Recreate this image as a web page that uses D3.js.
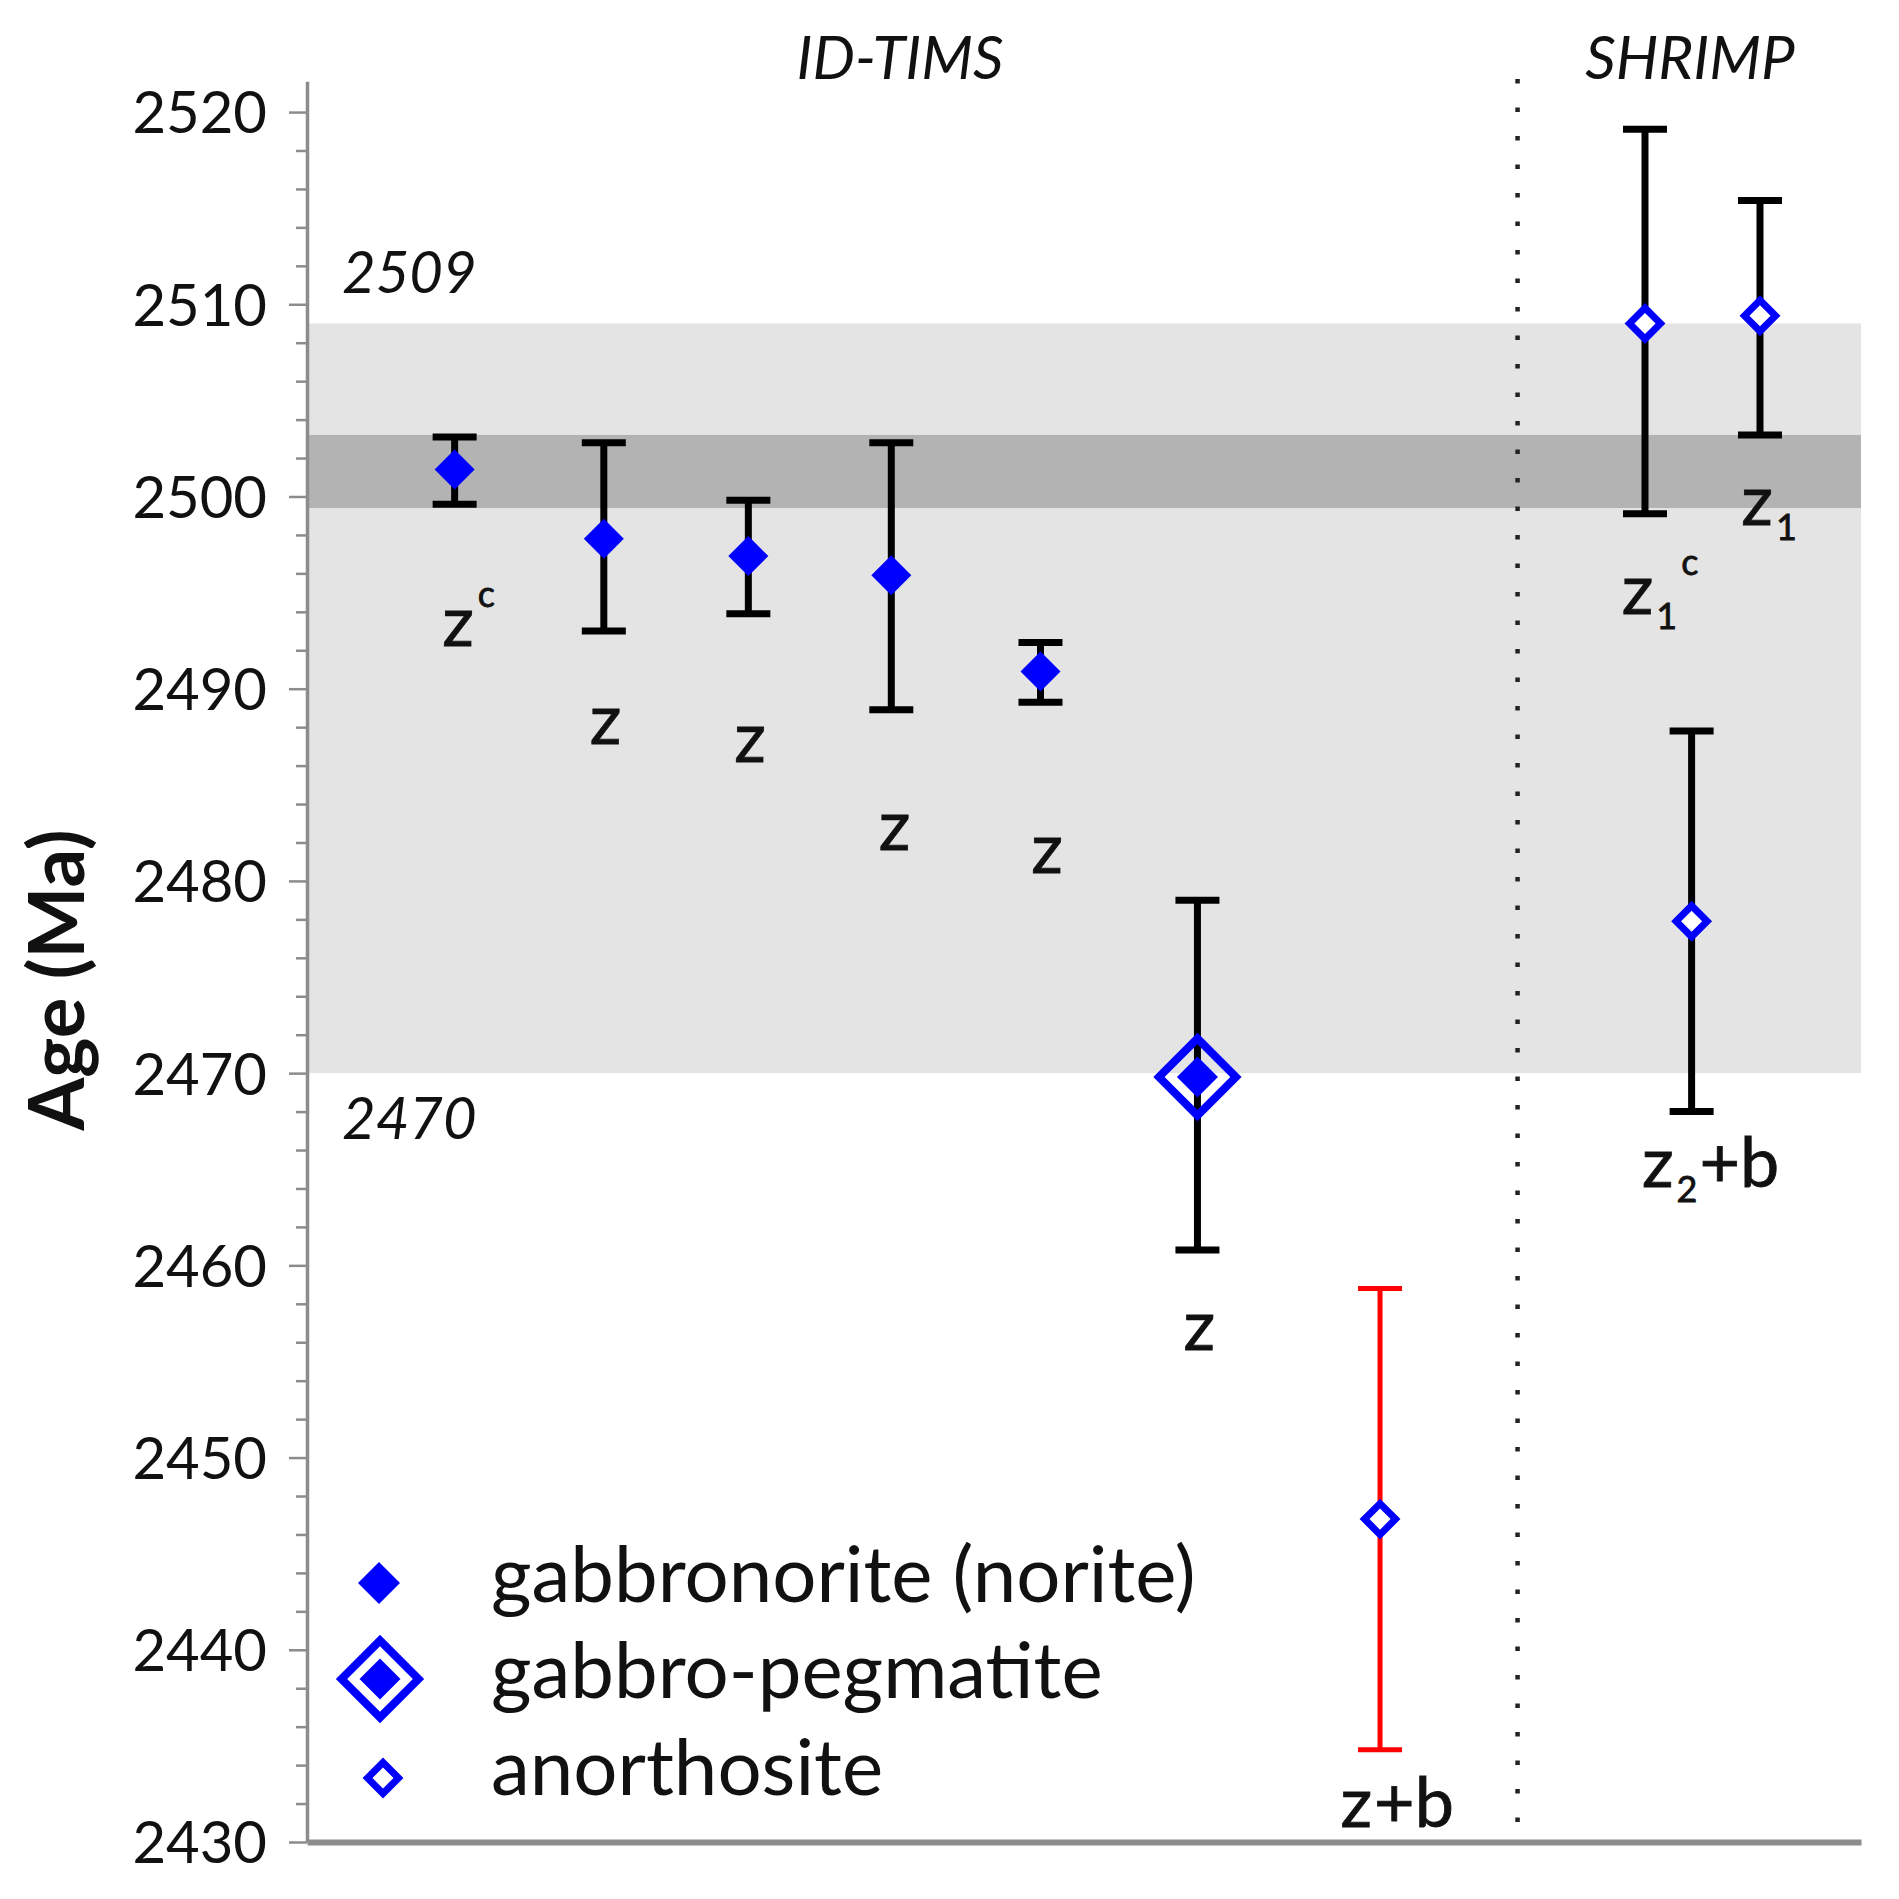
<!DOCTYPE html>
<html>
<head>
<meta charset="utf-8">
<script src="https://cdn.jsdelivr.net/npm/d3@7"></script>
<style>
  body { margin: 0; background: #fff; }
  text { font-family: Lato, "Open Sans", sans-serif; fill: #111; }
</style>
</head>
<body>
<svg id="chart" width="1899" height="1899"></svg>
<script>
// values (ages in Ma, 2-sigma bars)
const method   = ['ID-TIMS','ID-TIMS','ID-TIMS','ID-TIMS','ID-TIMS','ID-TIMS','ID-TIMS','SHRIMP','SHRIMP','SHRIMP'];
const rock     = ['gabbronorite','gabbronorite','gabbronorite','gabbronorite','gabbronorite',
                  'gabbro-pegmatite','anorthosite','anorthosite','anorthosite','anorthosite'];
const fraction = ['z^c','z','z','z','z','z','z+b','z_1^c','z_1','z_2+b'];
const xPos     = [0.95, 1.91, 2.84, 3.76, 4.72, 5.73, 6.905, 8.61, 9.35, 8.91];
const ages     = [2501.4, 2497.8, 2496.9, 2495.9, 2490.9, 2469.8, 2446.8, 2509.0, 2509.4, 2477.9];
const ageLow   = [2499.6, 2493.0, 2493.9, 2488.9, 2489.3, 2460.8, 2434.8, 2499.1, 2503.2, 2468.0];
const ageHigh  = [2503.1, 2502.8, 2499.8, 2502.8, 2492.4, 2479.0, 2458.8, 2519.1, 2515.4, 2487.8];

// where the fraction labels sit (x units, age)
const labelX   = [0.87, 1.82, 2.75, 3.68, 4.66, 5.64, 6.65, 8.46, 9.23, 8.59];
const labelAge = [2492.2, 2487.1, 2486.2, 2481.6, 2480.4, 2455.6, 2430.8, 2493.9, 2498.5, 2464.1];

const bandOuter = [2470, 2509];
const bandInner = [2499.4, 2503.2];
const methodSplit = 7.79;
const majorTicks = [2430, 2440, 2450, 2460, 2470, 2480, 2490, 2500, 2510, 2520];
const legendNames = ['gabbronorite (norite)', 'gabbro-pegmatite', 'anorthosite'];
const legendRocks = ['gabbronorite', 'gabbro-pegmatite', 'anorthosite'];

const BLUE = '#0000ff';
const AXIS = '#8c8c8c';

const svg = d3.select('#chart');

const x = d3.scaleLinear().domain([0, 10]).range([307, 1861]);
const y = d3.scaleLinear().domain([2430, 2521.6]).range([1842, 81.3]);

const points = ages.map((a, i) => ({
  method: method[i], rock: rock[i], label: fraction[i],
  x: xPos[i], age: a, lo: ageLow[i], hi: ageHigh[i],
  lx: labelX[i], la: labelAge[i]
}));

// grey bands
svg.append('rect')
  .attr('x', x(0)).attr('width', x(10) - x(0))
  .attr('y', y(bandOuter[1])).attr('height', y(bandOuter[0]) - y(bandOuter[1]))
  .attr('fill', '#e4e4e4');
svg.append('rect')
  .attr('x', x(0)).attr('width', x(10) - x(0))
  .attr('y', y(bandInner[1])).attr('height', y(bandInner[0]) - y(bandInner[1]))
  .attr('fill', '#b3b3b3');

svg.append('text').attr('x', 342).attr('y', y(bandOuter[1]) - 30)
  .attr('font-size', 58).attr('font-style', 'italic').text(bandOuter[1]);
svg.append('text').attr('x', 342).attr('y', y(bandOuter[0]) + 66)
  .attr('font-size', 58).attr('font-style', 'italic').text(bandOuter[0]);

// ID-TIMS / SHRIMP divider
svg.append('line')
  .attr('x1', x(methodSplit)).attr('x2', x(methodSplit))
  .attr('y1', 79).attr('y2', y(2430))
  .attr('stroke', '#222').attr('stroke-width', 4.5)
  .attr('stroke-dasharray', '4.5 24');

svg.append('text').attr('x', 900).attr('y', 79).attr('text-anchor', 'middle')
  .attr('font-size', 60).attr('font-style', 'italic').text('ID-TIMS');
svg.append('text').attr('x', 1690).attr('y', 79).attr('text-anchor', 'middle')
  .attr('font-size', 60).attr('font-style', 'italic').text('SHRIMP');

// axes
const minorTicks = d3.range(2430, 2521, 2).filter(v => v % 10 !== 0);
const yMinor = svg.append('g').attr('transform', `translate(${x(0)},0)`)
  .call(d3.axisLeft(y).tickValues(minorTicks).tickSize(11).tickFormat('').tickSizeOuter(0));
yMinor.select('.domain').remove();
yMinor.selectAll('.tick line').attr('stroke', AXIS).attr('stroke-width', 2.5);

const yAxis = svg.append('g').attr('transform', `translate(${x(0)},0)`)
  .call(d3.axisLeft(y).tickValues(majorTicks).tickFormat(d3.format('d'))
    .tickSize(18).tickPadding(22).tickSizeOuter(0));
yAxis.select('.domain').attr('stroke', AXIS).attr('stroke-width', 3.5);
yAxis.selectAll('.tick line').attr('stroke', AXIS).attr('stroke-width', 2.5);
yAxis.selectAll('.tick text')
  .attr('font-size', 58).attr('font-family', 'Lato, sans-serif').attr('fill', '#111')
  .attr('dy', '0.36em');

const xAxis = svg.append('g').attr('transform', `translate(0,${y(2430)})`)
  .call(d3.axisBottom(x).tickValues([]).tickSizeOuter(0));
xAxis.select('.domain').attr('stroke', AXIS).attr('stroke-width', 6);

svg.append('text')
  .attr('transform', `translate(84,980) rotate(-90)`)
  .attr('text-anchor', 'middle').attr('font-size', 76).attr('font-weight', 'bold')
  .text('Age (Ma)');

// markers
const diamond = w => d3.symbol(d3.symbolSquare, w * w / 2)();

function drawMarker(g, type, size) {
  const k = size || 1;
  if (type === 'gabbronorite') {
    g.append('path').attr('d', diamond(40 * k)).attr('transform', 'rotate(45)')
      .attr('fill', BLUE);
  } else if (type === 'gabbro-pegmatite') {
    g.append('path').attr('d', diamond(77)).attr('transform', 'rotate(45)')
      .attr('fill', 'none').attr('stroke', BLUE).attr('stroke-width', 8);
    g.append('path').attr('d', diamond(41)).attr('transform', 'rotate(45)')
      .attr('fill', BLUE);
  } else {
    g.append('path').attr('d', diamond(31)).attr('transform', 'rotate(45)')
      .attr('fill', '#fff').attr('stroke', BLUE).attr('stroke-width', 7);
  }
}

// error bars
const barColor = d => (d.method === 'ID-TIMS' && d.rock === 'anorthosite') ? '#ff0000' : '#000';
const barWidth = d => (d.method === 'ID-TIMS' && d.rock === 'anorthosite') ? 5 : 7;

const bars = svg.append('g').selectAll('g').data(points).join('g')
  .attr('stroke', barColor).attr('stroke-width', barWidth);
bars.append('line')
  .attr('x1', d => x(d.x)).attr('x2', d => x(d.x))
  .attr('y1', d => y(d.lo)).attr('y2', d => y(d.hi));
bars.append('line')
  .attr('x1', d => x(d.x) - 22).attr('x2', d => x(d.x) + 22)
  .attr('y1', d => y(d.lo)).attr('y2', d => y(d.lo));
bars.append('line')
  .attr('x1', d => x(d.x) - 22).attr('x2', d => x(d.x) + 22)
  .attr('y1', d => y(d.hi)).attr('y2', d => y(d.hi));

svg.append('g').selectAll('g').data(points).join('g')
  .attr('transform', d => `translate(${x(d.x)},${y(d.age)})`)
  .each(function (d) { drawMarker(d3.select(this), d.rock); });

// fraction labels: z, optional subscript digit, optional superscript c, tail
const LBL = 70, SMALL = 36;
points.forEach(d => {
  const m = d.label.match(/^z(?:_(\d))?(\^c)?(.*)$/);
  const t = svg.append('text').attr('x', x(d.lx)).attr('y', y(d.la))
    .attr('font-size', LBL).attr('stroke', '#111').attr('stroke-width', 0.8);
  t.append('tspan').text('z');
  let shift = 0;
  if (m[1]) {
    t.append('tspan').attr('font-size', SMALL).attr('dx', 3).attr('dy', 15).text(m[1]);
    shift = 15;
  }
  if (m[2]) {
    t.append('tspan').attr('font-size', SMALL).attr('dx', 4).attr('dy', -39 - shift).text('c');
    shift = -39;
  }
  if (m[3]) {
    t.append('tspan').attr('dx', 2).attr('dy', -shift).text(m[3]);
  }
});

// legend
const legend = svg.append('g').selectAll('g').data(legendNames).join('g')
  .attr('transform', (d, i) => `translate(0,${[1583, 1679, 1778][i]})`);
legend.each(function (d, i) {
  const g = d3.select(this).append('g').attr('transform', `translate(${[379, 380, 383][i]},0)`);
  drawMarker(g, legendRocks[i], 1.05);
});
legend.append('text').attr('x', 491).attr('y', (d, i) => [19, 19, 17][i])
  .attr('font-size', 78).text(d => d);
</script>
</body>
</html>
